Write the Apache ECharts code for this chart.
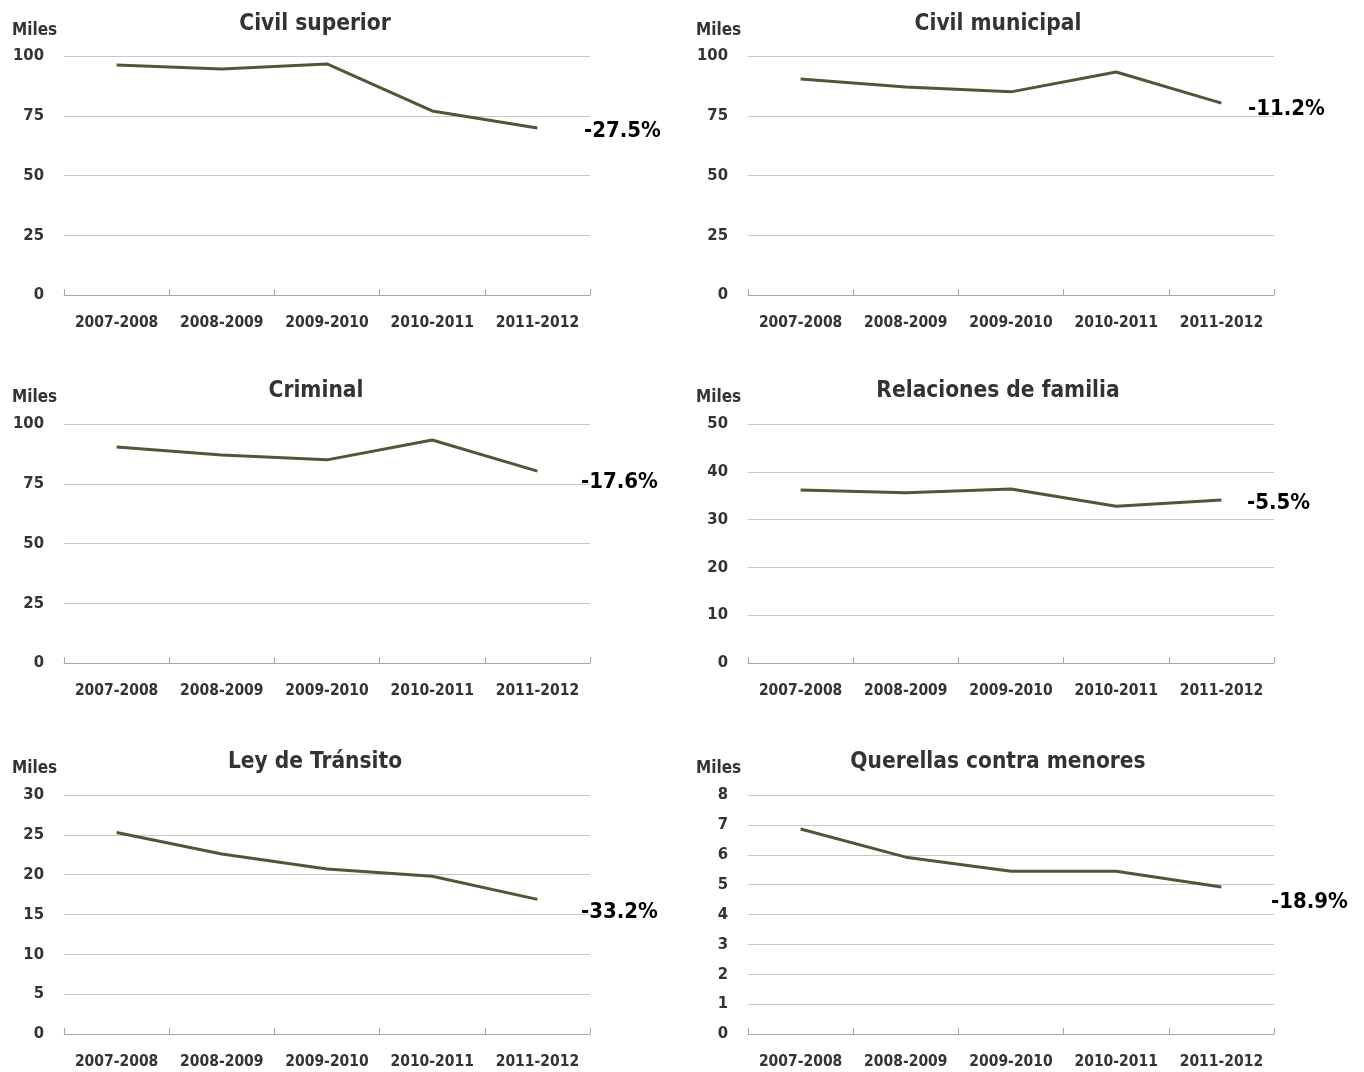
<!DOCTYPE html>
<html>
<head>
<meta charset="utf-8">
<script src="https://cdn.jsdelivr.net/npm/echarts@6/dist/echarts.min.js"></script>
<style>
html,body{margin:0;padding:0;background:#fff;}
#chart{width:1364px;height:1072px;}
</style>
</head>
<body>
<div id="chart"></div>
<script>
const categories = ['2007-2008', '2008-2009', '2009-2010', '2010-2011', '2011-2012'];

const panelTitles = ['Civil superior', 'Civil municipal', 'Criminal', 'Relaciones de familia', 'Ley de Tránsito', 'Querellas contra menores'];
const percentLabels = ['-27.5%', '-11.2%', '-17.6%', '-5.5%', '-33.2%', '-18.9%'];

const civilSuperior = [96.2, 94.6, 96.7, 77.0, 69.9];
const civilMunicipal = [90.4, 87.0, 85.0, 93.3, 80.3];
const criminal = [90.4, 87.0, 85.0, 93.3, 80.3];
const relacionesFamilia = [36.2, 35.6, 36.4, 32.8, 34.1];
const leyTransito = [25.3, 22.6, 20.7, 19.8, 16.9];
const querellasMenores = [6.86, 5.92, 5.45, 5.45, 4.92];

const yMax = [100, 100, 100, 50, 30, 8];
const yInterval = [25, 25, 25, 10, 5, 1];

const seriesData = [civilSuperior, civilMunicipal, criminal, relacionesFamilia, leyTransito, querellasMenores];

// layout
const FONT = '"Liberation Sans Narrow", "Arial Narrow", "DejaVu Sans Condensed", sans-serif';
const TEXT = '#333333';
const lefts = [64, 748];
const tops = [56, 424, 795];
const gw = 526, gh = 239;
const titleCenters = [[315, 22], [998, 22], [316, 389], [998, 389], [315, 760], [998, 760]];
const milesPos = [[12, 28], [696, 28], [12, 395], [696, 395], [12, 766], [696, 766]];
const pctPos = [[584, 130], [1248, 108], [581, 481], [1247, 502], [581, 911], [1271, 901]];

const grids = [], xAxes = [], yAxes = [], series = [], titles = [];
for (let i = 0; i < 6; i++) {
  const col = i % 2, row = Math.floor(i / 2);
  const L = lefts[col], T = tops[row];
  grids.push({left: L, top: T, width: gw, height: gh});
  xAxes.push({
    type: 'category', gridIndex: i, data: categories, boundaryGap: true,
    axisLine: {lineStyle: {color: '#a6a6a6', width: 1}},
    axisTick: {show: true, inside: true, length: 6, lineStyle: {color: '#a6a6a6'}},
    axisLabel: {interval: 0, color: TEXT, fontFamily: FONT, fontWeight: 'bold', fontSize: 15.5, margin: 20}
  });
  yAxes.push({
    type: 'value', gridIndex: i, min: 0, max: yMax[i], interval: yInterval[i],
    axisLine: {show: false}, axisTick: {show: false},
    splitLine: {lineStyle: {color: '#c8c8c8', width: 1}},
    axisLabel: {color: TEXT, fontFamily: FONT, fontWeight: 'bold', fontSize: 16.5, margin: 20}
  });
  series.push({
    type: 'line', xAxisIndex: i, yAxisIndex: i, data: seriesData[i],
    symbol: 'none', smooth: false,
    lineStyle: {color: '#545437', width: 3},
    animation: false
  });
  titles.push({
    text: panelTitles[i], left: titleCenters[i][0], top: titleCenters[i][1] - 9,
    textAlign: 'center', padding: 0,
    textStyle: {color: TEXT, fontFamily: FONT, fontWeight: 'bold', fontSize: 22.5}
  });
  titles.push({
    text: 'Miles', left: milesPos[i][0], top: milesPos[i][1] - 6, padding: 0,
    textStyle: {color: TEXT, fontFamily: FONT, fontWeight: 'bold', fontSize: 17}
  });
  titles.push({
    text: percentLabels[i], left: pctPos[i][0], top: pctPos[i][1] - 10, padding: 0,
    textStyle: {color: '#000', fontFamily: FONT, fontWeight: 'bold', fontSize: 22}
  });
}

const chart = echarts.init(document.getElementById('chart'), null, {renderer: 'canvas'});
chart.setOption({
  backgroundColor: '#ffffff',
  animation: false,
  title: titles,
  grid: grids,
  xAxis: xAxes,
  yAxis: yAxes,
  series: series
});
</script>
</body>
</html>
